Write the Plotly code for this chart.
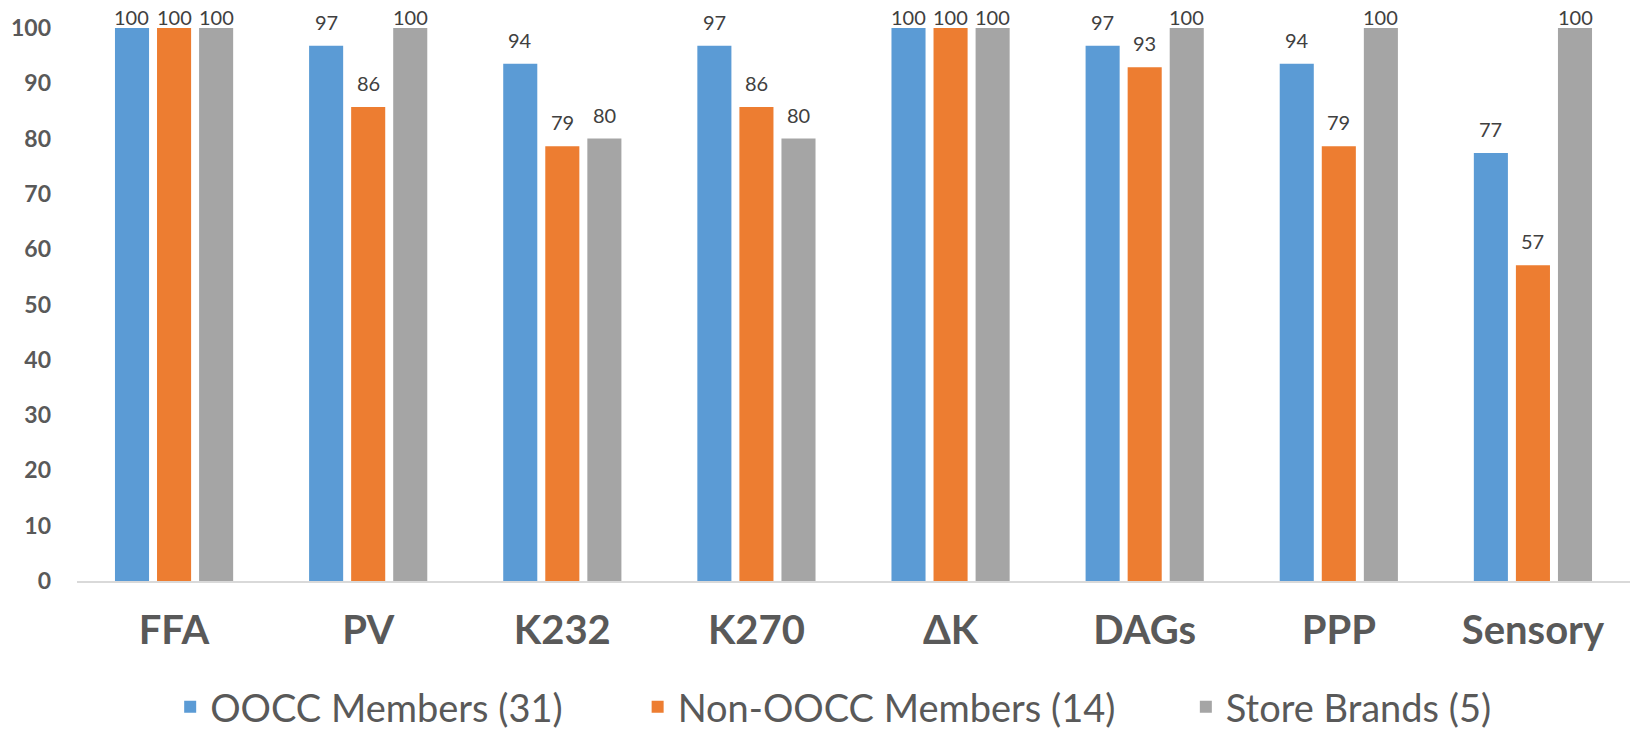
import plotly.graph_objects as go

categories = ["FFA", "PV", "K232", "K270", "ΔK", "DAGs", "PPP", "Sensory"]
series_names = ["OOCC Members (31)", "Non-OOCC Members (14)", "Store Brands (5)"]
oocc_members = [100, 96.8, 93.55, 96.8, 100, 96.8, 93.55, 77.4]
non_oocc_members = [100, 85.7, 78.6, 85.7, 100, 92.9, 78.6, 57.1]
store_brands = [100, 100, 80, 80, 100, 100, 100, 100]
y_ticks = [0, 10, 20, 30, 40, 50, 60, 70, 80, 90, 100]

colors = ["#5B9BD5", "#ED7D31", "#A5A5A5"]
legend_ids = ["legend", "legend2", "legend3"]
legend_x = [0.060, 0.361, 0.714]
series_values = [oocc_members, non_oocc_members, store_brands]

W, H = 1638, 729
ML, MR, MT, MB = 77, 8, 28, 148
BARGAP, BARGROUPGAP = 0.35, 0.19
Y_MAX = 100

fig = go.Figure()
for name, vals, color, lid in zip(series_names, series_values, colors, legend_ids):
    fig.add_trace(go.Bar(
        x=categories, y=vals, name=name, legend=lid,
        marker=dict(color=color, line=dict(width=0)),
        hoverinfo="skip",
    ))

# data labels (Excel style: above bar, kept inside chart top)
cat_px = (W - ML - MR) / len(categories)
slot_px = cat_px * (1 - BARGAP) / len(series_values)
px_per_unit = (H - MT - MB) / Y_MAX
label_gap_px = 16.5
top_gap_px = 3.3
baseline_to_box = 6.5
for s, vals in enumerate(series_values):
    xshift = (s - (len(series_values) - 1) / 2) * slot_px
    for cat, v in zip(categories, vals):
        gap = min(label_gap_px, (Y_MAX - v) * px_per_unit + top_gap_px)
        fig.add_annotation(
            x=cat, y=v, xref="x", yref="y",
            text=f"{v:.0f}", showarrow=False, xshift=xshift,
            yshift=gap - baseline_to_box,
            yanchor="bottom", xanchor="center",
            font=dict(family="Lato", size=20, color="#404040"),
        )

legend_common = dict(
    orientation="h", yanchor="middle", y=-0.228, xanchor="left",
    font=dict(family="Lato", size=38, color="#595959"),
    bgcolor="rgba(0,0,0,0)", borderwidth=0,
)
layout_legends = {}
for lid, lx in zip(legend_ids, legend_x):
    layout_legends[lid] = dict(legend_common, x=lx)

fig.update_layout(
    width=W, height=H,
    margin=dict(l=ML, r=MR, t=MT, b=MB, pad=0, autoexpand=False),
    paper_bgcolor="white", plot_bgcolor="white",
    barmode="group", bargap=BARGAP, bargroupgap=BARGROUPGAP,
    showlegend=True,
    xaxis=dict(
        type="category", showline=True, linecolor="#D9D9D9", linewidth=1.5,
        ticks="", showgrid=False, zeroline=False, automargin=False,
        tickfont=dict(family="Lato", size=40, color="#595959", weight="bold"),
        ticklabelstandoff=13,
    ),
    yaxis=dict(
        range=[0, Y_MAX], tickvals=y_ticks, showgrid=False, zeroline=False,
        showline=False, ticks="", automargin=False,
        tickfont=dict(family="Lato", size=23, color="#595959", weight="bold"),
        ticklabelstandoff=25,
    ),
    **layout_legends,
)

fig.write_html("out.html")
